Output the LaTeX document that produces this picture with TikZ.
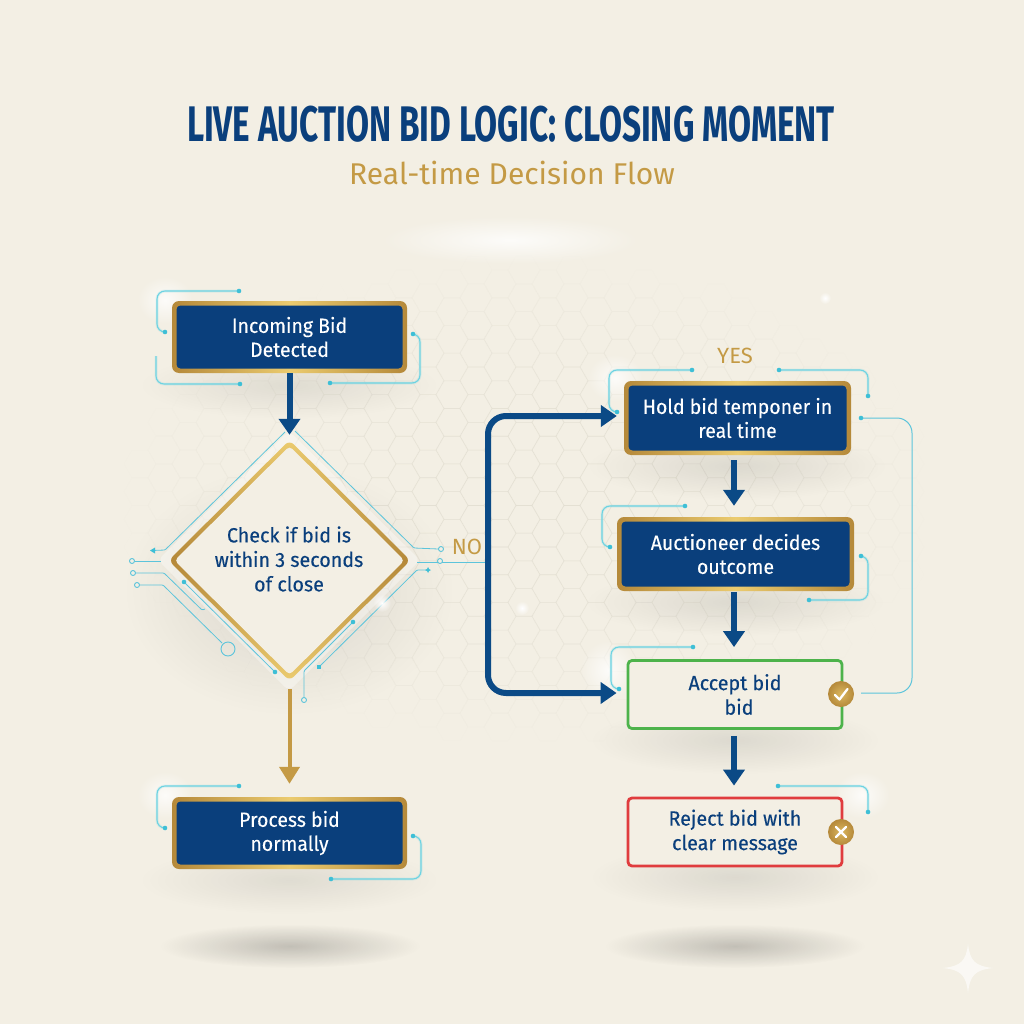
\documentclass[tikz,border=0pt]{standalone}
\usepackage{fontspec}
\setmainfont[FakeStretch=0.95,FakeBold=0.12]{Fira Sans}
\newfontfamily\subfont{Fira Sans}
\newfontfamily\titlefont[FakeStretch=0.667]{Fira Sans}
\newfontfamily\navyfont[FakeBold=0.3,FakeStretch=0.96]{Fira Sans}
\usetikzlibrary{arrows.meta,shapes.geometric,fadings}
\definecolor{bgc}{HTML}{F3EFE4}
\definecolor{navyc}{HTML}{0A3F7C}
\definecolor{arrowc}{HTML}{0B4A86}
\definecolor{goldd}{HTML}{B5893A}
\definecolor{goldl}{HTML}{EBCB6F}
\definecolor{goldt}{HTML}{C49A45}
\definecolor{cyanb}{HTML}{6CD3E2}
\definecolor{cyand}{HTML}{5CC4DB}
\definecolor{dotc}{HTML}{3EBFD6}
\definecolor{hexc}{HTML}{DAD6C8}
\definecolor{greenb}{HTML}{4DB34B}
\definecolor{redb}{HTML}{E03C3E}
\tikzfading[name=softfade, inner color=transparent!0, outer color=transparent!100]
\tikzset{
  goldframe/.style={rounded corners=7pt, left color=goldd, right color=goldd, middle color=goldl, minimum width=#1, minimum height=72pt, inner sep=0pt},
  navybox/.style={rounded corners=4pt, fill=navyc, text=white, minimum width=#1, minimum height=63pt, inner sep=0pt, align=center, font=\fontsize{20.5}{24}\selectfont},
  lightbox/.style={rounded corners=4pt, fill=bgc, draw=#1, line width=2.8pt, minimum width=214pt, minimum height=68pt, inner sep=0pt, align=center, text=navyc, font=\navyfont\fontsize{20.5}{24.5}\selectfont},
  flowhead/.tip={Triangle[width=21pt,length=16pt]},
  flowarrow/.style={line width=6pt, draw=arrowc, -flowhead},
  goldarrow/.style={line width=4pt, draw=goldt, -{Triangle[width=20pt,length=17pt]}},
  cy/.style={draw=cyanb, line width=1.1pt, rounded corners=8pt, preaction={draw=cyanb, line width=3pt, opacity=.18}},
  cyt/.style={draw=cyand, line width=.8pt, rounded corners=1pt},
  badge/.style={circle, minimum size=26pt, inner sep=0pt, inner color=goldl!70!goldd, outer color=goldd},
  lab/.style={text=goldt, font=\subfont\fontsize{22}{26}\selectfont, inner sep=0pt},
  hexline/.style={draw=hexc, line width=.6pt},
}
\newcommand{\softblob}[6]{\fill[#5, opacity=#6, path fading=softfade] (#1,#2) ellipse [x radius=#3pt, y radius=#4pt];}
\newcommand{\cdt}[2]{\fill[dotc] (#1,#2) circle [radius=2.3pt];}
\newcommand{\opn}[2]{\draw[cyand, line width=.9pt, fill=bgc] (#1,#2) circle [radius=2.5pt];}
\begin{document}
\begin{tikzpicture}[x=1pt,y=-1pt]
\useasboundingbox (0,0) rectangle (1024,1024);
\fill[bgc] (0,0) rectangle (1024,1024);
% hex texture
\foreach \cx in {0,...,33}{
  \foreach \cy in {0,...,19}{
    \pgfmathsetmacro\hx{140+24*\cx}
    \pgfmathsetmacro\hy{270+27.7*\cy+13.85*mod(\cx,2)}
    \pgfmathsetmacro\hop{max(0,1-((\hx-530)/400)^2-((\hy-500)/235)^2)*0.35}
    \draw[hexline,opacity=\hop,shift={(\hx,\hy)}] (16,0) -- (8,13.85) -- (-8,13.85) -- (-16,0) -- (-8,-13.85) -- (8,-13.85) -- cycle;
  }
}
% glows and shadows
\softblob{510}{240}{130}{24}{white}{.8}
\softblob{290}{946}{130}{22}{black}{.2}
\softblob{735}{946}{130}{22}{black}{.2}
\softblob{289}{385}{150}{34}{black}{.08}
\softblob{289}{880}{150}{34}{black}{.08}
\softblob{289}{590}{165}{125}{black}{.1}
\softblob{737}{466}{150}{34}{black}{.09}
\softblob{735}{602}{150}{34}{black}{.09}
\softblob{735}{740}{145}{34}{black}{.09}
\softblob{735}{877}{145}{34}{black}{.09}
\softblob{165}{300}{28}{24}{white}{.8}
\softblob{165}{795}{28}{24}{white}{.8}
\softblob{615}{378}{28}{24}{white}{.8}
\softblob{608}{670}{28}{30}{white}{.8}
\softblob{862}{795}{28}{24}{white}{.8}
% cyan traces around boxes
\draw[cy] (239,291) -- (157,291) -- (157,332) -- (165,332);
\cdt{239}{291}\cdt{165}{332}
\draw[cy] (156,356) -- (156,384) -- (240,384);
\cdt{240}{384}
\draw[cy] (413,334) -- (420,334) -- (420,383) -- (330,383);
\cdt{413}{334}\cdt{330}{383}
\draw[cy] (239,786) -- (157,786) -- (157,828) -- (165,828);
\cdt{239}{786}\cdt{165}{828}
\draw[cy] (413,836) -- (421,836) -- (421,879) -- (331,879);
\cdt{413}{836}\cdt{331}{879}
\draw[cy] (692,370) -- (609,370) -- (609,412) -- (617,412);
\cdt{692}{370}\cdt{617}{412}
\draw[cy] (779,370) -- (868,370) -- (868,396);
\cdt{779}{370}\cdt{868}{396}
\draw[cy] (685,506) -- (602,506) -- (602,547) -- (610,547);
\cdt{685}{506}\cdt{610}{547}
\draw[cy] (861,556) -- (868,556) -- (868,600) -- (809,600);
\cdt{861}{556}\cdt{809}{600}
\draw[cy] (693,647) -- (611,647) -- (611,689) -- (619,689);
\cdt{693}{647}\cdt{619}{689}
\draw[cy] (778,786) -- (868,786) -- (868,812);
\cdt{778}{786}\cdt{868}{812}
\draw[cyand, line width=1pt, rounded corners=15pt] (861,418) -- (912,418) -- (912,693) -- (861,693);
\cdt{861}{418}
% diamond halo
\fill[white, opacity=.35, rounded corners=6pt] (289,431) -- (420,560) -- (289,691) -- (158,560) -- cycle;
% traces around diamond
\draw[cyt] (152,550.5) -- (165,550) -- (285,432);
\fill[dotc] (150,550.5) -- (155,547.5) -- (155,553.5) -- cycle;
\draw[cyt] (295,431) -- (414,548) -- (438.5,549);
\opn{441}{549}
\draw[cyt] (417,562) -- (485,562);
\opn{440}{561}
\draw[cyt] (428,570) -- (417,570) -- (319,667);
\fill[dotc] (428,567) -- (429,569) -- (431,570) -- (429,571) -- (428,573) -- (427,571) -- (425,570) -- (427,569) -- cycle;
\fill[dotc] (317,665) rectangle (321,669);
\draw[cyt] (353,622) -- (304,671) -- (304,697.5);
\cdt{353}{622}\opn{304}{700}
\draw[cyt] (134.5,561) -- (161,561);
\opn{132}{561}
\draw[cyt] (135.5,573) -- (164,573) -- (202,610) -- (205,609);
\opn{133}{573}
\draw[cyt] (139.5,585) -- (163,585) -- (222,643);
\opn{137}{585}
\draw[cyand, line width=.9pt] (228,649) circle [radius=7pt];
\draw[cyt] (184,582) -- (275,672);
\cdt{184}{582}\cdt{275}{672}
% diamond
\node[diamond, rounded corners=6pt, top color=goldl, bottom color=goldl, middle color=goldd, minimum width=242pt, minimum height=241pt, inner sep=0pt] (dframe) at (289.5,560.5) {};
\node[diamond, rounded corners=4pt, fill=bgc, minimum width=230pt, minimum height=229pt, inner sep=0pt] (dinner) at (289.5,560.5) {};
\node[align=center, text=navyc, inner sep=0pt, font=\navyfont\fontsize{20.5}{24.5}\selectfont] (dtext) at (289,559) {Check if bid is\\within 3 seconds\\of close};
% navy boxes
\node[goldframe=235pt] (f1) at (289.5,337) {};
\node[navybox=226pt] (n1) at (f1.center) {Incoming Bid\\Detected};
\node[goldframe=235pt] (f2) at (289.5,833) {};
\node[navybox=226pt] (n2) at (f2.center) {\raisebox{-2pt}{\parbox{200pt}{\centering Process bid\\normally}}};
\node[goldframe=227pt, minimum height=74pt] (f3) at (737.5,418) {};
\node[navybox=218pt, minimum height=65pt] (n3) at (f3.center) {\raisebox{-1pt}{\parbox{210pt}{\centering Hold bid temponer in\\real time}}};
\node[goldframe=237pt, minimum height=74pt] (f4) at (735.5,554) {};
\node[navybox=228pt, minimum height=65pt] (n4) at (f4.center) {Auctioneer decides\\outcome};
\node[lightbox=greenb] (n5) at (735,694.5) {Accept bid\\\hspace*{8pt}bid};
\node[lightbox=redb] (n6) at (735,832) {\raisebox{-2pt}{\parbox{200pt}{\centering Reject bid with\\clear message}}};
% badges
\node[badge] (b5) at (841,694) {};
\draw[white, line width=2.3pt, line cap=round, line join=round] (835,695) -- (839.5,699.5) -- (847.5,689);
\node[badge] (b6) at (841,832) {};
\draw[white, line width=2.3pt, line cap=round] (836,827) -- (846,837) (846,827) -- (836,837);
% flow arrows
\draw[flowarrow, shorten >=5pt] (f1.south) -- (dframe.north);
\draw[goldarrow, shorten <=8pt, shorten >=13pt] (dframe.south) -- (f2.north);
\draw[flowarrow, shorten <=5pt, shorten >=11pt] ([xshift=-3.5pt]f3.south) -- ([xshift=-1.5pt]f4.north);
\draw[flowarrow, shorten <=1pt, shorten >=12pt] ([xshift=-1.5pt]f4.south) -- ([xshift=-1pt]n5.north);
\draw[flowarrow, shorten <=6pt, shorten >=11pt] ([xshift=-1pt]n5.south) -- ([xshift=-1pt]n6.north);
\coordinate (holdin) at ([xshift=-7pt,yshift=2pt]f3.west);
\coordinate (acceptin) at ([xshift=-10pt,yshift=1.5pt]n5.west);
\draw[flowarrow, flowhead-flowhead, rounded corners=18pt] (holdin) -- (488,416) -- (488,693) -- (acceptin);
% labels
\node[lab] (yes) at (735,356) {YES};
\node[lab] (no) at (467,546.5) {NO};
% title
\node[text=navyc, inner sep=0pt, font=\titlefont\bfseries\fontsize{50}{60}\selectfont] (title) at (511,124) {LIVE AUCTION BID LOGIC: CLOSING MOMENT};
\node[text=goldt, inner sep=0pt, font=\subfont\fontsize{30}{36}\selectfont] (sub) at (512,173) {Real-time Decision Flow};
% sparkles
\softblob{382}{603}{9}{9}{white}{1}
\softblob{522}{608}{7}{7}{white}{1}
\softblob{825}{298}{6}{6}{white}{1}
\fill[white, opacity=.6] (968,944) .. controls (970,961) and (975,966) .. (993,968) .. controls (975,970) and (970,975) .. (968,993) .. controls (966,975) and (961,970) .. (943,968) .. controls (961,966) and (966,961) .. (968,944) -- cycle;
\end{tikzpicture}
\end{document}
